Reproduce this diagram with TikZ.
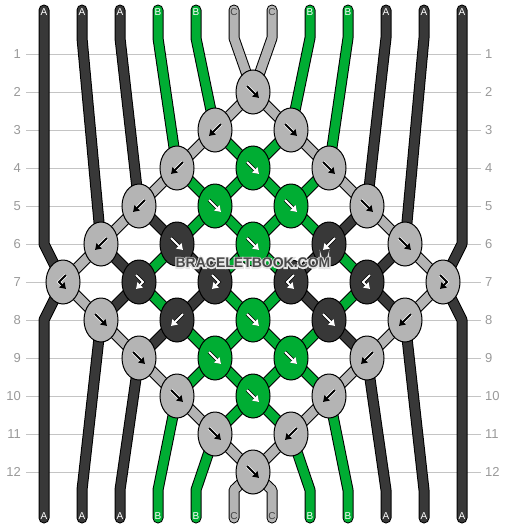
\documentclass[tikz,border=0pt]{standalone}
\usepackage{fontspec}
\setmainfont{Liberation Sans}
\usepackage{tikz}
\usetikzlibrary{arrows.meta,backgrounds,calc,shapes.geometric}
\definecolor{fadenA}{HTML}{383838}
\definecolor{fadenB}{HTML}{00AD33}
\definecolor{fadenC}{HTML}{B4B4B4}
\definecolor{linie}{HTML}{C4C4C4}
\definecolor{zahl}{HTML}{999999}
\definecolor{beschr}{HTML}{404040}
\definecolor{wzgrau}{HTML}{4A4A4A}

\tikzset{
  knoten/.style={ellipse, draw=black, line width=1pt, minimum width=34pt, minimum height=44pt, inner sep=0pt},
  umriss/.style={black, line width=11pt, line cap=round, line join=round},
  faden/.style={line width=9pt, line cap=round, line join=round},
  pfeilA/.style={white, line width=2pt, -{Triangle[length=6pt,width=7.5pt]}},
  pfeilB/.style={pfeilA},
  pfeilC/.style={black, line width=2pt, -{Triangle[length=6pt,width=7.5pt]}},
  haloA/.style={black, line width=3.4pt, -{Triangle[length=6pt,width=7.5pt]}},
  haloB/.style={haloA},
  haloC/.style={white, line width=3.4pt, -{Triangle[length=6pt,width=7.5pt]}},
  zeilennr/.style={text=zahl, font=\fontsize{13}{15}\selectfont, inner sep=0pt},
  fadenname/.style={font=\fontsize{10}{12}\selectfont, inner sep=0pt},
  wz/.style={font=\fontsize{14}{16}\selectfont\bfseries, inner sep=0pt},
}

% Pfeil im Knoten: Knoten, Farbe, Weg
\newcommand{\pfeilweg}[3]{%
  \begin{scope}[shift={(#1)}]
    \draw[halo#2] #3;
    \draw[pfeil#2] #3;
  \end{scope}}
\newcommand{\pfeilf}[2]{\pfeilweg{#1}{#2}{(-6,-6) -- (6,6)}}
\newcommand{\pfeilb}[2]{\pfeilweg{#1}{#2}{(6,-6) -- (-6,6)}}
\newcommand{\pfeilfb}[2]{\pfeilweg{#1}{#2}{(-3,-7) -- (4,0) -- (-3,7)}}
\newcommand{\pfeilbf}[2]{\pfeilweg{#1}{#2}{(3,-7) -- (-4,0) -- (3,7)}}
% Schrift mit hellem Rand
\newcommand{\randtext}[1]{\rlap{\special{pdf:literal direct 1 Tr 2.4 w 0.9 0.9 0.9 RG}#1\special{pdf:literal direct 0 Tr}}#1}

\begin{document}
\begin{tikzpicture}[x=1pt,y=-1pt]
\useasboundingbox (0,0) rectangle (506,528);
%Knoten: Reihe/Paar/Farbe/Typ
\foreach \reihe/\paar/\farbe/\typ in {2/6/C/f, 3/5/C/b, 3/7/C/f, 4/4/C/b, 4/6/B/f, 4/8/C/f,
  5/3/C/b, 5/5/B/f, 5/7/B/f, 5/9/C/f, 6/2/C/b, 6/4/A/f, 6/6/B/f, 6/8/A/b, 6/10/C/f,
  7/1/C/bf, 7/3/A/fb, 7/5/A/fb, 7/7/A/bf, 7/9/A/bf, 7/11/C/fb,
  8/2/C/f, 8/4/A/b, 8/6/B/f, 8/8/A/f, 8/10/C/b, 9/3/C/f, 9/5/B/f, 9/7/B/f, 9/9/C/b,
  10/4/C/f, 10/6/B/f, 10/8/C/b, 11/5/C/f, 11/7/C/b, 12/6/C/f}{
  \node[knoten, fill=faden\farbe] (k-\reihe-\paar) at ({63+38*(\paar-1)},{54+38*(\reihe-1)}) {};
  \csname pfeil\typ\endcsname{k-\reihe-\paar}{\farbe}
}
%Anfang und Ende der Faeden
\foreach \i/\yo/\yu in {1/244/320, 2/38/490, 3/38/490, 4/38/490, 5/38/490, 6/38/490,
  7/38/490, 8/38/490, 9/38/490, 10/38/490, 11/38/490, 12/244/320}{
  \pgfmathsetmacro{\xf}{44+38*(\i-1)}
  \coordinate (o-\i) at (\xf,10);
  \coordinate (ob-\i) at (\xf,\yo);
  \coordinate (ub-\i) at (\xf,\yu);
  \coordinate (u-\i) at (\xf,518);
}
\begin{pgfonlayer}{background}
\foreach \reihe in {1,...,12}{
  \draw[linie, line width=1pt] (26,{54+38*(\reihe-1)}) -- (481,{54+38*(\reihe-1)});
}
\foreach \i/\farbe/\weg in {1/A/{7-1}, 2/A/{6-2,7-3,8-2}, 3/A/{5-3,6-4,7-5,8-4,9-3},
  4/B/{4-4,5-5,6-6,7-7,8-6,9-5,10-4}, 5/B/{3-5,4-6,5-7,6-8,7-9,8-8,9-7,10-6,11-5},
  6/C/{2-6,3-7,4-8,5-9,6-10,7-11,8-10,9-9,10-8,11-7,12-6},
  7/C/{2-6,3-5,4-4,5-3,6-2,7-1,8-2,9-3,10-4,11-5,12-6},
  8/B/{3-7,4-6,5-5,6-4,7-3,8-4,9-5,10-6,11-7}, 9/B/{4-8,5-7,6-6,7-5,8-6,9-7,10-8},
  10/A/{5-9,6-8,7-7,8-8,9-9}, 11/A/{6-10,7-9,8-10}, 12/A/{7-11}}{
  \draw[umriss] (o-\i) -- (ob-\i) \foreach \k in \weg {-- (k-\k.center)} -- (ub-\i) -- (u-\i);
  \draw[faden, faden\farbe] (o-\i) -- (ob-\i) \foreach \k in \weg {-- (k-\k.center)} -- (ub-\i) -- (u-\i);
}
\end{pgfonlayer}
%Reihennummern
\foreach \reihe in {1,...,12}{
  \node[zeilennr, anchor=east] (nl-\reihe) at (21,{54+38*(\reihe-1)}) {\reihe};
  \node[zeilennr, anchor=west] (nr-\reihe) at (485,{54+38*(\reihe-1)}) {\reihe};
}
%Fadennamen
\foreach \i/\n/\tf in {1/A/white, 2/A/white, 3/A/white, 4/B/white, 5/B/white, 6/C/beschr,
  7/C/beschr, 8/B/white, 9/B/white, 10/A/white, 11/A/white, 12/A/white}{
  \node[fadenname, text=\tf] (oben-\i) at ({44+38*(\i-1)},12) {\n};
  \node[fadenname, text=\tf] (unten-\i) at ({44+38*(\i-1)},516) {\n};
}
%Wasserzeichen
\node[wz, text=wzgrau] (wasserzeichen) at (253,263) {\randtext{BRACELETBOOK.COM}};
\end{tikzpicture}
\end{document}
